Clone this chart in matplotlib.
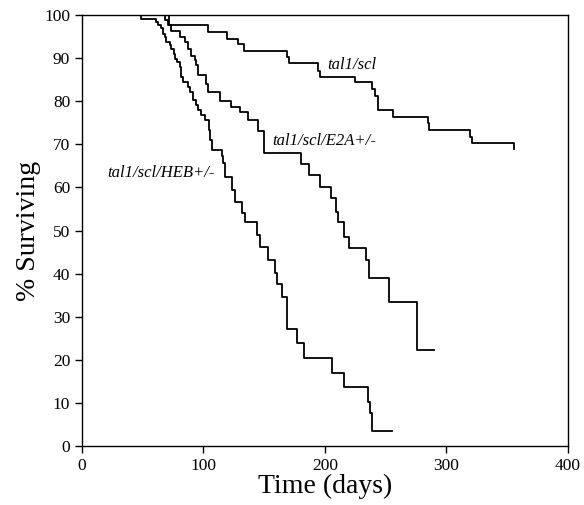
import matplotlib
matplotlib.use("Agg")
from matplotlib import pyplot as plt

# survival curves (day, % surviving), step changes
scl_days = [0, 72, 104, 119, 128, 133, 168.5, 170.6, 194.5, 196, 224.7, 238.4,
            241, 244, 255.7, 284.5, 286, 319, 321, 355.5]
scl_surv = [100, 97.7, 96.1, 94.4, 93.2, 91.6, 90.3, 88.9, 87.1, 85.5, 84.4, 82.8,
            81.2, 78, 76.3, 75, 73.3, 71.8, 70.2, 68.8]

e2a_days = [0, 68.5, 71, 73.5, 80.4, 84.5, 87.2, 90, 92.7, 94.1, 95.5, 102, 103.7,
            113.3, 123, 130, 136.6, 145, 150, 180, 186.8, 196, 205, 209, 210.7,
            216, 219.8, 233.5, 236.5, 252.7, 275.5, 290]
e2a_surv = [100, 98.8, 97.6, 96.4, 94.9, 93.7, 92.2, 90.6, 89.5, 88.3, 86.1, 84.1, 82.1,
            80, 78.7, 77.5, 75.6, 73, 68, 65.4, 62.9, 60.2, 57.5, 54.4, 52,
            48.6, 45.9, 43.2, 38.9, 33.5, 22.3, 22.3]

heb_days = [0, 48.8, 61.2, 62.5, 65.3, 66.7, 68, 69.4, 72.1, 73.5, 75.7, 76.3, 78.4,
            80.4, 81.7, 83.1, 87.2, 88.6, 91.4, 94.1, 95.5, 98.2, 101, 104.8, 105.3,
            106.7, 115, 116.3, 117.7, 123.2, 126, 131.4, 134.2, 143.8, 146.5, 153.3,
            158.8, 160.2, 164.4, 168.5, 169, 176.7, 183, 206, 216, 235.6, 237, 239, 255]
heb_surv = [100, 99.1, 98.4, 97.6, 97, 95.7, 94.9, 93.7, 93, 92.2, 91, 89.8, 89.1,
            87.9, 85.6, 84.5, 83.3, 82.1, 80.3, 79.1, 78, 76.8, 75.6, 73.3, 71,
            68.7, 67.3, 65.6, 62.3, 59.4, 56.7, 54, 52, 49, 46.2, 43.2,
            40.1, 37.7, 34.6, 30.8, 27.1, 24, 20.5, 17, 13.8, 10.3, 7.6, 3.5, 3.5]

plt.rcParams['font.family'] = ['Liberation Serif', 'DejaVu Serif']

fig = plt.figure(figsize=(5.84, 5.05), dpi=100)
ax = fig.add_axes([0.1404, 0.1168, 0.8322, 0.8535])

for d, s in [(scl_days, scl_surv), (e2a_days, e2a_surv), (heb_days, heb_surv)]:
    ax.step(d, s, where='post', color='black', lw=1.3)

ax.text(202, 88.5, 'tal1/scl', style='italic', fontsize=12, va='center')
ax.text(157, 70.8, 'tal1/scl/E2A+/-', style='italic', fontsize=12, va='center')
ax.text(20.5, 63.3, 'tal1/scl/HEB+/-', style='italic', fontsize=12, va='center')

ax.set_xlim(0, 400)
ax.set_ylim(0, 100)
ax.set_xticks(range(0, 401, 100))
ax.set_yticks(range(0, 101, 10))
ax.tick_params(labelsize=12.5, length=5, width=1, direction='out', colors='black')
for sp in ax.spines.values():
    sp.set_linewidth(1)
    sp.set_color('black')

ax.set_xlabel('Time (days)', fontsize=20, labelpad=0)
ax.set_ylabel('% Surviving', fontsize=20, labelpad=2)

fig.savefig('out.png', dpi=100)
